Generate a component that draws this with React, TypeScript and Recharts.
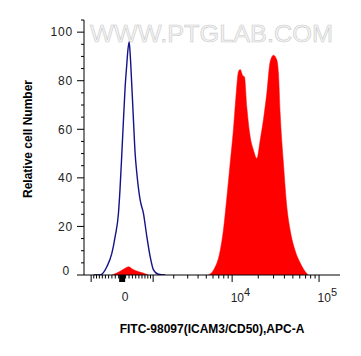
import React from "react";
import { ComposedChart, Area, Line, XAxis, YAxis, Customized } from "recharts";

// Raw fluorescence intensities (APC-A) and relative cell counts
const blueX = [-900, -672, -455, -302, -204, -107, -58, -9, 38, 87, 136, 166, 204, 233, 284, 332, 383, 436, 540, 649, 766, 888, 1013, 1220, 1535];
const blueY = [0, 0, 3.4, 8.9, 15.8, 25.4, 36.3, 50, 63.8, 77.5, 87, 92.5, 96, 91.2, 77.5, 63.8, 50, 41.8, 30.9, 25.4, 15.8, 7.5, 2.1, 0.3, 0];

const redSmallX = [-293, -58, 87, 189, 293, 477, 639, 812];
const redSmallY = [0, 1.5, 2.8, 3.4, 2.5, 1.4, 0.8, 0];

const redBigX = [5300, 6070, 7270, 7930, 8690, 9490, 10350, 11040, 11830, 12370, 13290, 13870, 14780, 16130, 17610, 19270, 21040, 22950, 25110, 27400, 29900, 32720, 34150, 35720, 38960, 42630, 46510, 53120, 60610, 69190, 74920];
const redBigY = [0, 2, 10, 18.5, 32, 46, 60, 73, 83.7, 84.6, 82, 81.6, 69, 57, 51.4, 48, 55.5, 64, 75, 87.8, 90.5, 88.5, 83, 66.6, 46, 28, 18.5, 10, 5, 1.4, 0];

const xRange = [-1300, 174000];
const xMajor = [-1000, 0, 1000, 10000, 100000];
const xLabeled = [0, 10000, 100000];
const xMinor = [
  -900, -800, -700, -600, -500, -400, -300, -200, -100,
  100, 200, 300, 400, 500, 600, 700, 800, 900,
  2000, 3000, 4000, 5000, 6000, 7000, 8000, 9000,
  20000, 30000, 40000, 50000, 60000, 70000, 80000, 90000,
];
const yTicks = [0, 5, 10, 15, 20, 25, 30, 35, 40, 45, 50, 55, 60, 65, 70, 75, 80, 85, 90, 95, 100, 105];
const yLabeled = [0, 20, 40, 60, 80, 100];

const xTitle = "FITC-98097(ICAM3/CD50),APC-A";
const yTitle = "Relative cell Number";
const watermark = "WWW.PTGLAB.COM";

const COF = 1093;
const T = (v: number) => Math.asinh(v / COF);
const Tinv = (t: number) => Math.round(Math.sinh(t) * COF);

const toPts = (xs: number[], ys: number[]) => xs.map((v, i) => ({ t: T(v), y: ys[i] }));
const blueData = toPts(blueX, blueY);
const redSmallData = toPts(redSmallX, redSmallY);
const redBigData = toPts(redBigX, redBigY);

const xTickPos = [...xMajor, ...xMinor].sort((a, b) => a - b).map(T);
const xDomain = [T(xRange[0]), T(xRange[1])];

const FONT = "'Liberation Sans', Arial, sans-serif";

const XTick = (props: any) => {
  const { x, y, payload } = props;
  const raw = Tinv(payload.value);
  const major = xMajor.some((m) => Math.abs(m - raw) < 1);
  const labeled = xLabeled.find((m) => Math.abs(m - raw) < 1);
  return (
    <g>
      <line x1={x} x2={x} y1={y} y2={y + (major ? 7 : 3.5)} stroke="#000" strokeWidth={raw === 0 ? 6 : 1} />
      {labeled === 0 && (
        <text x={x + 3} y={y + 26} textAnchor="middle" fontSize={12} fill="#222" fontFamily={FONT}>0</text>
      )}
      {labeled !== undefined && labeled !== 0 && (
        <text x={x - 1.5} y={y + 27} textAnchor="start" fontSize={12} fill="#222" fontFamily={FONT}>
          10<tspan dy={-6} fontSize={11}>{Math.round(Math.log10(labeled))}</tspan>
        </text>
      )}
    </g>
  );
};

const YTick = (props: any) => {
  const { x, y, payload } = props;
  const v = payload.value;
  const labeled = yLabeled.includes(v);
  return (
    <g>
      <line x1={x - (labeled ? 7 : 3)} x2={x} y1={y} y2={y} stroke="#000" />
      {labeled && (
        <text x={x - (v === 0 ? 14 : 11)} y={y + (v === 0 ? -4.5 : 0)} dy="0.36em" textAnchor="end" fontSize={12} letterSpacing={0.8} fill="#222" fontFamily={FONT}>
          {v}
        </text>
      )}
    </g>
  );
};

const Decor = () => (
  <g>
    <text x={90} y={42} fontSize={24} textLength={243} lengthAdjust="spacingAndGlyphs" fill="#f4f4f4" stroke="#cccccc" strokeWidth={0.6} fontFamily={FONT}>
      {watermark}
    </text>
    <text x={212} y={333} textAnchor="middle" fontSize={12} fontWeight="bold" fill="#000" fontFamily={FONT}>
      {xTitle}
    </text>
    <text x={32} y={139} transform="rotate(-90 32 139)" textAnchor="middle" fontSize={12} fontWeight="bold" fill="#000" fontFamily={FONT}>
      {yTitle}
    </text>
  </g>
);

export default function App() {
  return (
    <div style={{ position: "absolute", left: 0, top: 0, width: 361, height: 356, background: "#fff" }}>
      <ComposedChart width={361} height={356} margin={{ top: 20, right: 21, bottom: 0, left: 0 }}>
        <Customized component={Decor} />
        <XAxis
          xAxisId="b"
          dataKey="t"
          type="number"
          domain={xDomain}
          ticks={xTickPos}
          interval={0}
          tick={<XTick />}
          tickLine={false}
          tickSize={0}
          tickMargin={0}
          height={81}
          axisLine={{ stroke: "#000" }}
          allowDataOverflow
        />
        <XAxis xAxisId="top" orientation="top" type="number" domain={xDomain} tick={false} tickLine={false} height={0} axisLine={{ stroke: "#000" }} allowDataOverflow />
        <YAxis
          yAxisId="l"
          type="number"
          domain={[0, 105]}
          ticks={yTicks}
          interval={0}
          tick={<YTick />}
          tickLine={false}
          tickSize={0}
          tickMargin={0}
          width={84}
          axisLine={{ stroke: "#000" }}
          allowDataOverflow
        />
        <YAxis yAxisId="r" orientation="right" type="number" domain={[0, 105]} tick={false} tickLine={false} width={0} axisLine={{ stroke: "#000" }} />
        <Area xAxisId="b" yAxisId="l" data={redBigData} dataKey="y" type="monotone" fill="#ff0000" fillOpacity={1} stroke="#ff0000" strokeWidth={0.5} isAnimationActive={false} dot={false} activeDot={false} />
        <Area xAxisId="b" yAxisId="l" data={redSmallData} dataKey="y" type="monotone" fill="#ff0000" fillOpacity={1} stroke="#ff0000" strokeWidth={0.5} isAnimationActive={false} dot={false} activeDot={false} />
        <Line xAxisId="b" yAxisId="l" data={blueData} dataKey="y" type="monotone" stroke="#12128a" strokeWidth={1.4} dot={false} activeDot={false} isAnimationActive={false} />
      </ComposedChart>
    </div>
  );
}
